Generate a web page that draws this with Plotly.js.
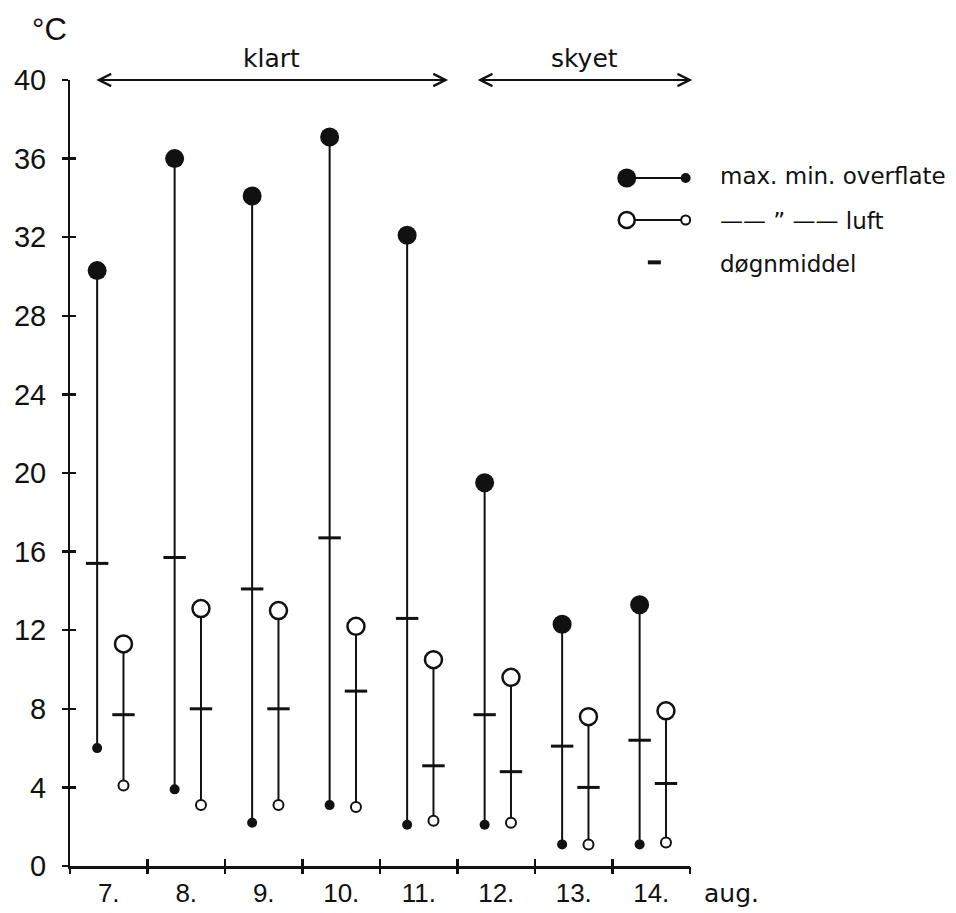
<!DOCTYPE html>
<html>
<head>
<meta charset="utf-8">
<script src="https://cdn.plot.ly/plotly-3.0.1.min.js"></script>
<style>html,body{margin:0;padding:0;background:#fff;}#chart{width:956px;height:913px;}</style>
</head>
<body>
<div id="chart"></div>
<script>
// ---- data ----
const days = [7, 8, 9, 10, 11, 12, 13, 14];
const dayLabels = ['7.', '8.', '9.', '10.', '11.', '12.', '13.', '14.'];
const overflateMax  = [30.3, 36.0, 34.1, 37.1, 32.1, 19.5, 12.3, 13.3];
const overflateMin  = [6.0, 3.9, 2.2, 3.1, 2.1, 2.1, 1.1, 1.1];
const overflateMean = [15.4, 15.7, 14.1, 16.7, 12.6, 7.7, 6.1, 6.4];
const luftMax  = [11.3, 13.1, 13.0, 12.2, 10.5, 9.6, 7.6, 7.9];
const luftMin  = [4.1, 3.1, 3.1, 3.0, 2.3, 2.2, 1.1, 1.2];
const luftMean = [7.7, 8.0, 8.0, 8.9, 5.1, 4.8, 4.0, 4.2];
const yTicks = [0, 4, 8, 12, 16, 20, 24, 28, 32, 36, 40];
const groupNames = ['klart', 'skyet'];
const groupFirstDay = [7, 12];
const groupLastDay = [11, 14];
const legendLabels = ['max. min. overflate', '—— ” —— luft', 'døgnmiddel'];

// ---- styling ----
const NUMFONT = 'Liberation Sans, Arial, sans-serif';
const TXTFONT = 'DejaVu Sans, sans-serif';
const INK = '#111';
const offO = -0.15, offL = 0.19;
const xo = days.map(d => d + offO);
const xl = days.map(d => d + offL);

function segs(xs, lo, hi) {
  const X = [], Y = [];
  xs.forEach((x, i) => { X.push(x, x, null); Y.push(lo[i], hi[i], null); });
  return {X, Y};
}
const so = segs(xo, overflateMin, overflateMax);
const sl = segs(xl, luftMin, luftMax);

const traces = [
  {x: so.X, y: so.Y, mode: 'lines', line: {color: INK, width: 2}, cliponaxis: false, hoverinfo: 'skip'},
  {x: sl.X, y: sl.Y, mode: 'lines', line: {color: INK, width: 2}, cliponaxis: false, hoverinfo: 'skip'},
  {x: xo, y: overflateMax, mode: 'markers', marker: {color: INK, size: 19, symbol: 'circle'}, cliponaxis: false},
  {x: xo, y: overflateMin, mode: 'markers', marker: {color: INK, size: 10, symbol: 'circle'}, cliponaxis: false},
  {x: xo, y: overflateMean, mode: 'markers', marker: {symbol: 'line-ew', size: 16, line: {color: INK, width: 3}}, cliponaxis: false},
  {x: xl, y: luftMax, mode: 'markers', marker: {color: '#fff', size: 17, symbol: 'circle', line: {color: INK, width: 2.5}}, cliponaxis: false},
  {x: xl, y: luftMin, mode: 'markers', marker: {color: '#fff', size: 10, symbol: 'circle', line: {color: INK, width: 2}}, cliponaxis: false},
  {x: xl, y: luftMean, mode: 'markers', marker: {symbol: 'line-ew', size: 16, line: {color: INK, width: 3}}, cliponaxis: false},
  {x: [], y: [], xaxis: 'x2', yaxis: 'y2', showlegend: false},
  {x: [], y: [], xaxis: 'x3', yaxis: 'y', showlegend: false},
];

const boundaries = [6.5].concat(days.map(d => d + 0.5));

const annotations = [];
// y-unit
annotations.push({xref: 'paper', yref: 'paper', x: -0.0645, y: 1.064, yanchor: 'middle', text: '°C', showarrow: false,
  font: {family: NUMFONT, size: 31, color: INK}});
// month label
annotations.push({xref: 'paper', yref: 'paper', x: 1.019, xanchor: 'left', y: -0.0345, yanchor: 'middle', text: 'aug.', showarrow: false,
  font: {family: TXTFONT, size: 25, color: INK}});
// group arrows
const arrowStartOff = [-0.18, -0.26], arrowEndOff = [0.38, 0.53];
groupNames.forEach((g, i) => {
  const a = groupFirstDay[i] + arrowStartOff[i];
  const b = groupLastDay[i] + arrowEndOff[i];
  annotations.push({x: b, y: 40, ax: a, ay: 40, axref: 'x', ayref: 'y', xref: 'x', yref: 'y', text: '',
    showarrow: true, arrowside: 'end+start', arrowhead: 5, arrowsize: 1.2, arrowwidth: 2, arrowcolor: INK,
    standoff: 0, startstandoff: 0});
  annotations.push({x: (a + b) / 2, y: 40, xref: 'x', yref: 'y', yshift: 22, yanchor: 'middle', text: g, showarrow: false,
    font: {family: TXTFONT, size: 25, color: INK}});
});
// legend texts
const legY = [0.8753, 0.8219, 0.768];
const legTextY = [0.878, 0.8205, 0.766];
legendLabels.forEach((t, i) => {
  annotations.push({xref: 'paper', yref: 'paper', x: 1.045, y: legTextY[i], xanchor: 'left', yanchor: 'middle', text: t, showarrow: false,
    font: {family: TXTFONT, size: 23, color: INK}});
});

function pcircle(px, py, r, filled, lw) {
  return {type: 'circle', xref: 'paper', yref: 'paper', xsizemode: 'pixel', ysizemode: 'pixel',
    xanchor: px, yanchor: py, x0: -r, x1: r, y0: -r, y1: r,
    fillcolor: filled ? INK : '#fff', line: {color: INK, width: lw}};
}
const shapes = [
  {type: 'line', xref: 'paper', yref: 'paper', x0: 0.898, x1: 0.993, y0: legY[0], y1: legY[0], line: {color: INK, width: 2}},
  pcircle(0.898, legY[0], 9.5, true, 0),
  pcircle(0.993, legY[0], 5, true, 0),
  {type: 'line', xref: 'paper', yref: 'paper', x0: 0.898, x1: 0.993, y0: legY[1], y1: legY[1], line: {color: INK, width: 2}},
  pcircle(0.898, legY[1], 8, false, 2.5),
  pcircle(0.993, legY[1], 4.5, false, 2),
  {type: 'line', xref: 'paper', yref: 'paper', x0: 0.932, x1: 0.953, y0: legY[2], y1: legY[2], line: {color: INK, width: 4}},
];

const layout = {
  width: 956, height: 913,
  margin: {l: 70, r: 266, t: 80, b: 47},
  paper_bgcolor: '#fff', plot_bgcolor: '#fff',
  showlegend: false,
  xaxis: {range: [6.5, 14.5], showgrid: false, zeroline: false, showline: true, linecolor: INK, linewidth: 3,
    tickmode: 'array', tickvals: days, ticktext: dayLabels, ticks: '', ticklabelstandoff: 2,
    tickfont: {family: NUMFONT, size: 26, color: INK}, fixedrange: true},
  yaxis: {range: [0, 40], showgrid: false, zeroline: false, showline: true, linecolor: INK, linewidth: 2,
    tickmode: 'array', tickvals: yTicks, ticks: 'outside', ticklen: 6, tickwidth: 2.5, tickcolor: INK,
    ticklabelstandoff: 10, tickfont: {family: NUMFONT, size: 29, color: INK}, fixedrange: true},
  xaxis2: {overlaying: 'x', matches: 'x', range: [6.5, 14.5], showgrid: false, zeroline: false, showline: false,
    tickmode: 'array', tickvals: boundaries, ticks: 'outside', ticklen: 7, tickwidth: 2.5, tickcolor: INK,
    showticklabels: false, side: 'bottom', anchor: 'y2'},
  yaxis2: {overlaying: 'y', matches: 'y', range: [0, 40], showgrid: false, zeroline: false, showline: false,
    tickmode: 'array', tickvals: yTicks, ticks: 'inside', ticklen: 6, tickwidth: 2.5, tickcolor: INK,
    showticklabels: false, side: 'left', anchor: 'x2'},
  xaxis3: {overlaying: 'x', matches: 'x', range: [6.5, 14.5], showgrid: false, zeroline: false, showline: false,
    tickmode: 'array', tickvals: boundaries, ticks: 'inside', ticklen: 7, tickwidth: 2.5, tickcolor: INK,
    showticklabels: false, side: 'bottom', anchor: 'y'},
  annotations: annotations,
  shapes: shapes,
};

Plotly.newPlot('chart', traces, layout, {displayModeBar: false, staticPlot: true});
</script>
</body>
</html>
